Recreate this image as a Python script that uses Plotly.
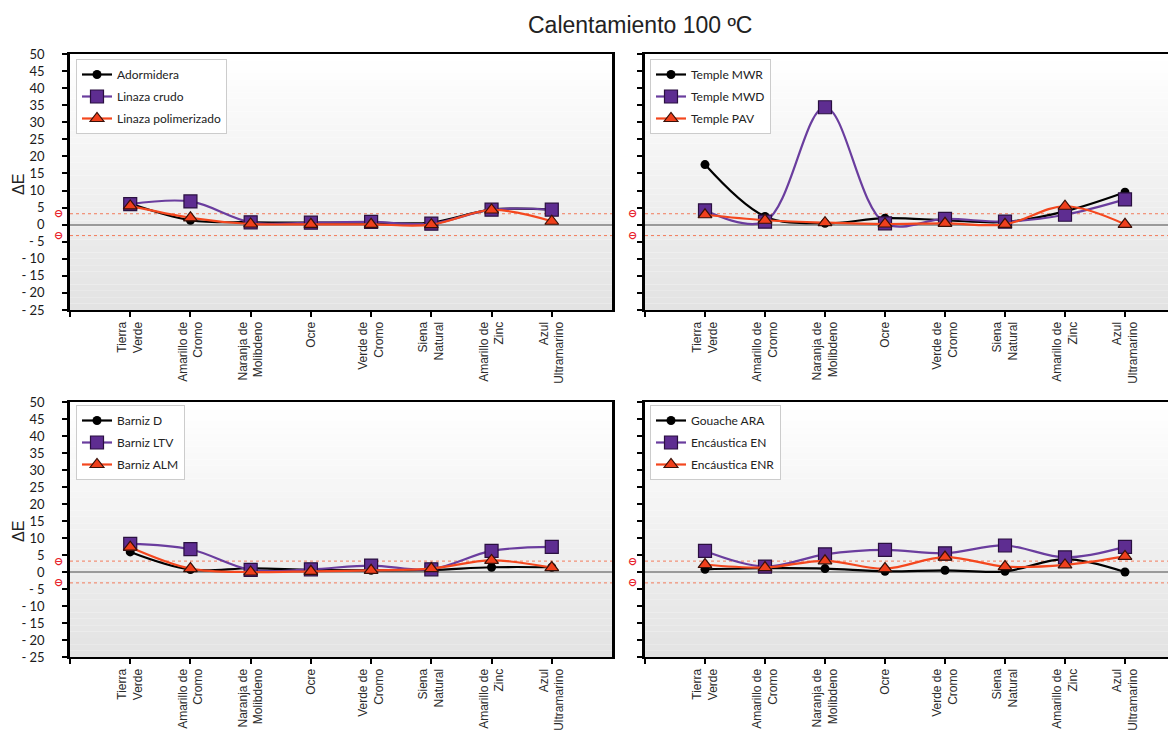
import plotly.graph_objects as go

categories = ["Tierra<br>Verde", "Amarillo de<br>Cromo", "Naranja de<br>Molibdeno", "Ocre",
              "Verde de<br>Cromo", "Siena<br>Natural", "Amarillo de<br>Zinc", "Azul<br>Ultramarino"]

# Panel 1
adormidera = [6.2, 1.3, 0.7, 0.6, 0.6, 0.6, 4.4, 4.4]
linaza_crudo = [6.0, 6.8, 0.7, 0.6, 0.8, 0.3, 4.4, 4.4]
linaza_polim = [5.5, 2.0, 0.2, 0.1, 0.1, 0.0, 4.3, 1.0]
# Panel 2
temple_mwr = [17.6, 2.4, 0.4, 1.9, 1.3, 0.8, 3.9, 9.5]
temple_mwd = [4.2, 0.9, 34.4, 0.4, 1.7, 0.9, 2.9, 7.4]
temple_pav = [2.9, 1.3, 0.6, 0.2, 0.4, 0.1, 5.4, 0.1]
# Panel 3
barniz_d = [5.9, 0.7, 1.1, 0.6, 0.5, 0.6, 1.4, 1.4]
barniz_ltv = [8.3, 6.7, 0.6, 0.8, 1.9, 0.8, 6.2, 7.4]
barniz_alm = [7.3, 1.0, 0.0, 0.2, 0.5, 1.0, 3.4, 1.3]
# Panel 4
gouache_ara = [0.8, 1.1, 1.0, 0.2, 0.5, 0.2, 3.8, 0.0]
encaustica_en = [6.2, 1.6, 5.2, 6.5, 5.5, 7.8, 4.3, 7.4]
encaustica_enr = [2.2, 1.3, 3.3, 1.0, 4.4, 1.6, 2.1, 4.6]

panels = [
    (["Adormidera", "Linaza crudo", "Linaza polimerizado"], [adormidera, linaza_crudo, linaza_polim]),
    (["Temple MWR", "Temple MWD", "Temple PAV"], [temple_mwr, temple_mwd, temple_pav]),
    (["Barniz D", "Barniz LTV", "Barniz ALM"], [barniz_d, barniz_ltv, barniz_alm]),
    (["Gouache ARA", "Encáustica EN", "Encáustica ENR"], [gouache_ara, encaustica_en, encaustica_enr]),
]

ytick_vals = [50, 45, 40, 35, 30, 25, 20, 15, 10, 5, 0, -5, -10, -15, -20, -25]
ytick_text = ["50", "45", "40", "35", "30", "25", "20", "15", "10", "5", "0",
              "- 5", "- 10", "- 15", "- 20", "- 25"]
threshold = 3.2

W, H = 1176, 732
OFF = 8  # page body margin


def px(v):
    return (v - OFF) / W


def py(v):
    return 1 - (v - OFF) / H


xdom = [[px(70), px(612)], [px(645), 1.0]]
ydom = [[py(310), py(54)], [py(657), py(402)]]

styles = [
    dict(line=dict(color="#000000", width=2.2, shape="spline", smoothing=1),
         marker=dict(symbol="circle", size=9, color="#000000")),
    dict(line=dict(color="#6a3d9e", width=2.2, shape="spline", smoothing=1),
         marker=dict(symbol="square", size=13, color="#5e2d91", line=dict(color="#2a1040", width=1.2))),
    dict(line=dict(color="#f4471e", width=2.2, shape="spline", smoothing=1),
         marker=dict(symbol="triangle-up", size=12, color="#f0401c", line=dict(color="#3a1008", width=1.2))),
]

fig = go.Figure()
shapes = []
annotations = []
xs = list(range(len(categories)))

for p, (names, series) in enumerate(panels):
    row, col = divmod(p, 2)
    ax = "" if p == 0 else str(p + 1)
    xa, ya = "x" + ax, "y" + ax
    leg = "legend" if p == 0 else "legend" + str(p + 1)
    for k, (nm, vals) in enumerate(zip(names, series)):
        fig.add_trace(go.Scatter(x=xs, y=vals, name=nm, mode="lines+markers",
                                 xaxis=xa, yaxis=ya, legend=leg, legendgroup=f"g{p}_{k}",
                                 **styles[k]))
    right_edge = 8 if col == 0 else -1 + (W + OFF - 645) / 60.0
    fig.update_layout(**{
        "xaxis" + ax: dict(domain=xdom[col], anchor=ya, range=[-1, right_edge], automargin=False,
                           tickvals=[-1] + xs, ticktext=[""] + categories, tickangle=-90,
                           ticks="outside", ticklen=5, tickwidth=2, tickcolor="#000",
                           showline=True, linecolor="#000", linewidth=2, mirror=True,
                           showgrid=False, zeroline=False, ticklabelstandoff=0,
                           tickfont=dict(family="Liberation Sans, Arial", size=12, color="#2a2a2a")),
        "yaxis" + ax: dict(domain=ydom[row], anchor=xa, range=[-25, 50], automargin=False,
                           tickvals=ytick_vals, ticktext=ytick_text if col == 0 else [""] * len(ytick_vals),
                           ticks="outside", ticklen=5, tickwidth=2, tickcolor="#000",
                           showline=True, linecolor="#000", linewidth=2.5, mirror=(col == 0),
                           showgrid=False, zeroline=True, zerolinecolor="#9a9a9a", zerolinewidth=1.5,
                           ticklabelstandoff=15,
                           tickfont=dict(family="Lato, Open Sans", size=13, color="#1a1a1a")),
        leg: dict(x=px(76 if col == 0 else 650), y=py(59 if row == 0 else 405),
                  xanchor="left", yanchor="top", bgcolor="#ffffff", bordercolor="#cccccc",
                  borderwidth=1, font=dict(family="Lato, Open Sans", size=12, color="#222"),
                  tracegroupgap=3),
    })
    # gradient background
    N = 40
    for i in range(N):
        t = i / (N - 1)
        c = int(round(227 + (255 - 227) * t))
        shapes.append(dict(type="rect", xref=xa + " domain", yref=ya + " domain",
                           x0=0, x1=1, y0=i / N, y1=(i + 1) / N,
                           fillcolor=f"rgb({c},{c},{c})", line=dict(width=0), layer="below"))
    for s in (threshold, -threshold):
        shapes.append(dict(type="line", xref=xa + " domain", yref=ya, x0=0, x1=1, y0=s, y1=s,
                           line=dict(color="#f27a5a", width=1, dash="dot"), layer="below"))
        annotations.append(dict(text="<b>⊖</b>", xref="paper", yref=ya,
                                x=px(58 if col == 0 else 632), y=s, showarrow=False,
                                font=dict(family="DejaVu Sans", color="#e8202a", size=11),
                                xanchor="center", yanchor="middle"))
    if col == 0:
        annotations.append(dict(text="ΔE", xref="paper", yref="paper", x=px(18),
                                y=py(185 if row == 0 else 532), textangle=-90, showarrow=False,
                                xanchor="center", yanchor="middle",
                                font=dict(family="Liberation Sans, Arial", size=16, color="#222")))

annotations.append(dict(text="Calentamiento 100 ºC", xref="paper", yref="paper", x=px(640), y=py(25),
                        xanchor="center", yanchor="middle", showarrow=False,
                        font=dict(family="Liberation Sans, Arial", size=23, color="#222")))

fig.update_layout(width=W, height=H, margin=dict(l=0, r=0, t=0, b=0, autoexpand=False),
                  paper_bgcolor="#ffffff", plot_bgcolor="#ffffff",
                  shapes=shapes, annotations=annotations, showlegend=True)

fig.write_html("out.html")
